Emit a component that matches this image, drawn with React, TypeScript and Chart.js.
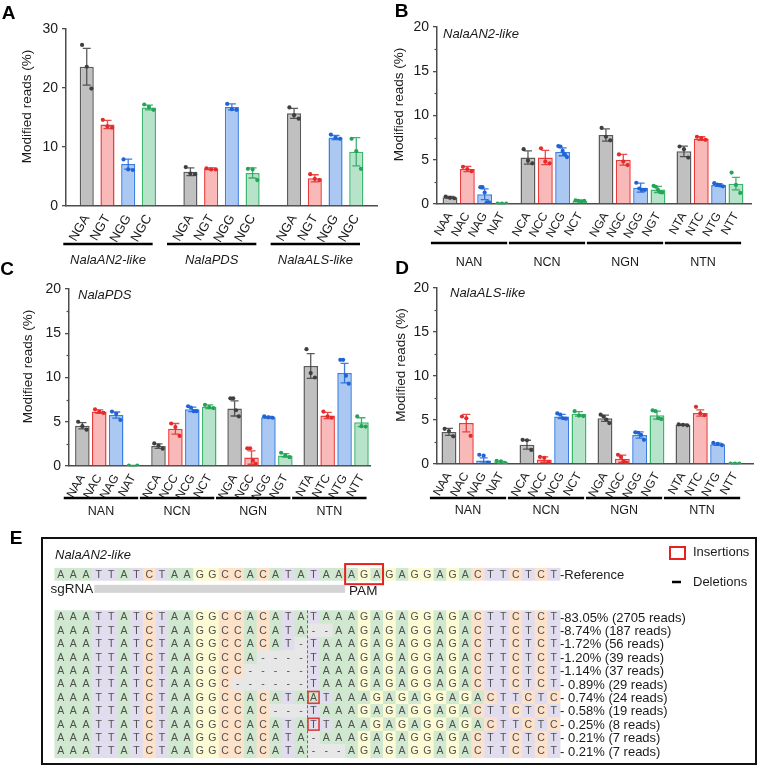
import React, { useEffect, useRef } from 'react';
import { Chart, registerables } from 'chart.js';

Chart.register(...registerables);

const FONT = '"Liberation Sans", Arial, Helvetica, sans-serif';
const INK = '#1a1a1a';
const AXIS = '#4d4d4d';

// Colours for the four motifs of each group (gray, red, blue, green)
const PALETTE = [
  { fill: '#c0c0c0', line: '#5a5a5a', dot: '#3f3f3f' },
  { fill: '#f9b9b9', line: '#ee3a3a', dot: '#e32b2b' },
  { fill: '#aac8f1', line: '#3b7fe2', dot: '#1f63d6' },
  { fill: '#b6e3c9', line: '#3bb66d', dot: '#24a458' },
];

// ---------------- Panel A: NGN PAMs at three target genes ----------------
const aMotifs = ['NGA', 'NGT', 'NGG', 'NGC'];
const aGenes = ['NalaAN2-like', 'NalaPDS', 'NalaALS-like'];
const aMeans = [23.6, 13.8, 7.1, 16.7, 5.8, 6.3, 16.8, 5.6, 15.7, 4.7, 11.6, 9.2];
const aErrors = [3.1, 0.7, 0.85, 0.4, 0.65, 0.15, 0.5, 0.85, 0.85, 0.6, 0.35, 2.4];
const aReplicates = [
  [27.3, 23.6, 19.9], [14.6, 13.5, 13.3], [7.9, 6.2, 6.1], [17.2, 16.8, 16.3],
  [6.6, 5.5, 5.4], [6.4, 6.2, 6.2], [17.3, 16.4, 16.3], [6.3, 6.2, 4.4],
  [16.7, 15.4, 14.8], [5.4, 4.6, 4.4], [12.1, 11.6, 11.4], [11.4, 9.3, 6.3],
];

// ---------------- Panels B–D: NNN PAM scan ----------------
const nnnMotifs = [
  'NAA', 'NAC', 'NAG', 'NAT', 'NCA', 'NCC', 'NCG', 'NCT',
  'NGA', 'NGC', 'NGG', 'NGT', 'NTA', 'NTC', 'NTG', 'NTT',
];
const nnnGroups = ['NAN', 'NCN', 'NGN', 'NTN'];

// B: NalaAN2-like
const bMeans = [0.75, 3.95, 1.1, 0.05, 5.25, 5.25, 5.9, 0.35, 7.8, 5.0, 1.85, 1.65, 5.95, 7.4, 2.15, 2.3];
const bErrors = [0.1, 0.3, 0.6, 0.02, 0.75, 0.8, 0.45, 0.05, 0.7, 0.6, 0.5, 0.35, 0.6, 0.2, 0.15, 0.7];
const bReplicates = [
  [0.85, 0.7, 0.65], [4.2, 3.95, 3.7], [1.9, 1.9, 1.3, 0.2, 0.2], [0.05, 0.05, 0.05],
  [6.2, 4.9, 4.6], [6.3, 4.8, 4.6], [6.55, 6.5, 6.0, 5.6, 5.3], [0.4, 0.35, 0.3, 0.35],
  [8.6, 7.6, 7.2], [5.6, 4.8, 4.4], [2.4, 1.75, 1.6, 1.6], [2.05, 1.95, 1.6, 1.35, 1.3],
  [6.5, 6.2, 5.25], [7.6, 7.45, 7.25], [2.35, 2.2, 2.1, 2.0], [3.55, 2.15, 1.25],
];

// C: NalaPDS
const cMeans = [4.55, 6.15, 5.75, 0.05, 2.25, 4.2, 6.4, 6.7, 6.5, 0.95, 5.5, 1.2, 11.3, 5.7, 10.5, 4.95];
const cErrors = [0.35, 0.2, 0.35, 0.02, 0.25, 0.6, 0.25, 0.2, 0.85, 0.75, 0.1, 0.2, 1.4, 0.35, 1.1, 0.5];
const cReplicates = [
  [5.0, 4.5, 4.1], [6.4, 6.15, 6.0], [6.15, 5.9, 5.2], [0.05, 0.05],
  [2.55, 2.3, 1.95], [4.8, 4.4, 3.4], [6.75, 6.6, 6.2, 6.2], [6.9, 6.65, 6.55],
  [7.65, 7.65, 6.3, 5.6], [2.0, 2.0, 0.6, 0.25], [5.6, 5.5, 5.45], [1.5, 1.2, 1.0],
  [13.2, 10.5, 10.0], [6.15, 5.6, 5.45], [12.0, 12.0, 10.2, 9.3], [5.6, 4.5, 4.45],
];

// D: NalaALS-like
const dMeans = [3.65, 4.65, 0.4, 0.2, 2.2, 0.5, 5.4, 5.7, 5.2, 0.6, 3.3, 5.55, 4.45, 5.8, 2.25, 0.05];
const dErrors = [0.4, 1.0, 0.3, 0.1, 0.5, 0.3, 0.25, 0.25, 0.35, 0.4, 0.35, 0.45, 0.07, 0.35, 0.12, 0.02];
const dReplicates = [
  [4.0, 3.75, 3.15], [5.4, 5.2, 3.2], [1.05, 0.95, 0.15], [0.35, 0.3, 0.1],
  [2.75, 2.7, 1.6], [0.8, 0.7, 0.2], [5.75, 5.6, 5.2, 5.15], [6.0, 5.5, 5.45],
  [5.6, 5.4, 5.05, 4.65], [1.05, 0.8, 0.3, 0.15], [3.6, 3.55, 3.3, 2.75], [6.1, 6.0, 5.2, 5.1],
  [4.5, 4.45, 4.4], [6.5, 5.75, 5.55], [2.4, 2.3, 2.15], [0.05, 0.05, 0.05],
];

// ---------------- Panel E: amplicon reads at NalaAN2-like ----------------
const referenceSeq = 'AAATTATCTAAGGCCACATATAAAGAGAGGAGACTTCTCT';
const readSeqs = [
  'AAATTATCTAAGGCCACATATAAAGAGAGGAGACTTCTCT',
  'AAATTATCTAAGGCCACATA--AAGAGAGGAGACTTCTCT',
  'AAATTATCTAAGGCCACAT-TAAAGAGAGGAGACTTCTCT',
  'AAATTATCTAAGGCCA----TAAAGAGAGGAGACTTCTCT',
  'AAATTATCTAAGGCC-----TAAAGAGAGGAGACTTCTCT',
  'AAATTATCTAAGGC------TAAAGAGAGGAGACTTCTCT',
  'AAATTATCTAAGGCCACATAATAAAGAGAGGAGACTTCTC',
  'AAATTATCTAAGGCCAC---TAAAGAGAGGAGACTTCTCT',
  'AAATTATCTAAGGCCACATATTAAAGAGAGGAGACTTCTC',
  'AAATTATCTAAGGCCACATA-AAAGAGAGGAGACTTCTCT',
  'AAATTATCTAAGGCCACATA---AGAGAGGAGACTTCTCT',
];
const readPercents = [83.05, 8.74, 1.72, 1.2, 1.14, 0.89, 0.74, 0.58, 0.25, 0.21, 0.21];
const readCounts = [2705, 187, 56, 39, 37, 29, 24, 19, 8, 7, 7];
const readInsertions = [-1, -1, -1, -1, -1, -1, 20, -1, 20, -1, -1]; // column of inserted base
const cutColumn = 20;
const sgRNASpan = [3, 23];
const pamSpan = [23, 26];

const BASE_FILL: Record<string, string> = {
  A: '#cfe8cf',
  T: '#e2ddee',
  C: '#fde2c9',
  G: '#fdfbd3',
  '-': '#e7e7e7',
};

type PanelSpec = {
  left: number; top: number; width: number; height: number;
  area: { left: number; top: number; right: number; bottom: number };
  labels: string[]; groups: string[]; groupItalic: boolean;
  means: number[]; errors: number[]; replicates: number[][];
  groupStep: number; xMin: number; xMax: number;
  yMax: number; yMajor: number; yMinor: number;
  barPct: number; jitter: number;
  tickFont: number; groupFont: number;
  underlineY: number; groupLabelY: number; underlinePad: [number, number];
  letter: string; letterXY: [number, number];
  titleX: number; inner?: string; innerXY?: [number, number];
};

function BarPanel({ spec }: { spec: PanelSpec }) {
  const ref = useRef<HTMLCanvasElement>(null);
  useEffect(() => {
    const p = spec;
    const positions = p.labels.map((_, i) => Math.floor(i / 4) * p.groupStep + (i % 4));
    const colour = (i: number) => PALETTE[i % 4];
    const pts: { x: number; y: number; c: string }[] = [];
    p.replicates.forEach((reps, i) => {
      const n = reps.length;
      reps.forEach((v, k) => {
        const off = n > 1 ? (k / (n - 1) - 0.5) * p.jitter : 0;
        pts.push({ x: positions[i] + off, y: v, c: colour(i).dot });
      });
    });

    const decor = {
      id: 'decor',
      afterDatasetDraw(chart: any, args: any) {
        if (args.index !== 0) return;
        const { ctx, scales: { x, y } } = chart;
        ctx.save();
        ctx.lineWidth = 1.3;
        p.means.forEach((m, i) => {
          const px = x.getPixelForValue(positions[i]);
          const hi = y.getPixelForValue(m + p.errors[i]);
          const lo = y.getPixelForValue(Math.max(0, m - p.errors[i]));
          ctx.strokeStyle = colour(i).dot;
          ctx.globalAlpha = 0.85;
          ctx.beginPath();
          ctx.moveTo(px, hi); ctx.lineTo(px, lo);
          ctx.moveTo(px - 4, hi); ctx.lineTo(px + 4, hi);
          ctx.moveTo(px - 4, lo); ctx.lineTo(px + 4, lo);
          ctx.stroke();
        });
        ctx.restore();
      },
      afterDraw(chart: any) {
        const { ctx, scales: { x, y }, chartArea } = chart;
        ctx.save();
        // minor ticks on the y axis
        if (p.yMinor > 0) {
          ctx.strokeStyle = AXIS;
          ctx.lineWidth = 1.2;
          for (let v = p.yMinor; v < p.yMax; v += p.yMinor * 2) {
            const py = Math.round(y.getPixelForValue(v)) + 0.5;
            ctx.beginPath();
            ctx.moveTo(chartArea.left - 2.5, py);
            ctx.lineTo(chartArea.left, py);
            ctx.stroke();
          }
        }
        // group underlines and names
        ctx.fillStyle = INK;
        ctx.strokeStyle = '#000';
        ctx.lineWidth = 2.6;
        ctx.textAlign = 'center';
        ctx.textBaseline = 'middle';
        ctx.font = `${p.groupItalic ? 'italic ' : ''}${p.groupFont}px ${FONT}`;
        p.groups.forEach((g, gi) => {
          const first = gi * p.groupStep;
          const last = first + 3;
          const x0 = x.getPixelForValue(first - p.underlinePad[0]);
          const x1 = x.getPixelForValue(last + p.underlinePad[1]);
          ctx.beginPath();
          ctx.moveTo(x0, p.underlineY);
          ctx.lineTo(x1, p.underlineY);
          ctx.stroke();
          ctx.fillText(g, (x0 + x1) / 2, p.groupLabelY);
        });
        // axis title
        ctx.save();
        ctx.translate(p.titleX, (chartArea.top + chartArea.bottom) / 2 - 11);
        ctx.rotate(-Math.PI / 2);
        ctx.font = `13.5px ${FONT}`;
        ctx.fillText('Modified reads (%)', 0, 0);
        ctx.restore();
        // panel letter
        ctx.font = `bold 19px ${FONT}`;
        ctx.fillStyle = '#000';
        ctx.fillText(p.letter, p.letterXY[0], p.letterXY[1]);
        // gene name inside the plot
        if (p.inner && p.innerXY) {
          ctx.font = `italic 13px ${FONT}`;
          ctx.textAlign = 'left';
          ctx.fillStyle = INK;
          ctx.fillText(p.inner, p.innerXY[0], p.innerXY[1]);
        }
        ctx.restore();
      },
    };

    const chart = new Chart(ref.current as HTMLCanvasElement, {
      type: 'bar',
      data: {
        datasets: [
          {
            type: 'bar',
            data: p.means.map((m, i) => ({ x: positions[i], y: m })),
            backgroundColor: p.means.map((_, i) => colour(i).fill),
            borderColor: p.means.map((_, i) => colour(i).line),
            borderWidth: 1.5,
            barPercentage: p.barPct,
            categoryPercentage: 1,
            order: 1,
          } as any,
          {
            type: 'scatter',
            data: pts.map((q) => ({ x: q.x, y: q.y })),
            pointBackgroundColor: pts.map((q) => q.c),
            pointBorderWidth: 0,
            pointRadius: 2.1,
            order: 0,
          } as any,
        ],
      },
      options: {
        responsive: false,
        animation: false,
        devicePixelRatio: 1,
        events: [],
        layout: {
          autoPadding: false,
          padding: { left: 0, top: p.area.top, right: p.width - p.area.right, bottom: 0 },
        },
        plugins: { legend: { display: false }, tooltip: { enabled: false } },
        scales: {
          x: {
            type: 'linear',
            min: p.xMin,
            max: p.xMax,
            offset: false,
            afterBuildTicks: (s: any) => {
              s.ticks = positions.map((v) => ({ value: v }));
            },
            afterFit: (s: any) => {
              s.height = p.height - p.area.bottom;
            },
            grid: { display: false, drawTicks: false },
            border: { display: true, color: AXIS, width: 1.5 },
            ticks: {
              autoSkip: false,
              minRotation: 60,
              maxRotation: 60,
              padding: 6,
              color: INK,
              font: { family: FONT, size: p.tickFont },
              callback: (_v: any, i: number) => p.labels[i],
            },
          },
          y: {
            type: 'linear',
            min: 0,
            max: p.yMax,
            afterFit: (s: any) => {
              s.width = p.area.left;
            },
            grid: { drawOnChartArea: false, drawTicks: true, tickLength: 4, color: AXIS, lineWidth: 1.3 },
            border: { display: true, color: AXIS, width: 1.5 },
            ticks: {
              stepSize: p.yMajor,
              padding: 4,
              color: INK,
              font: { family: FONT, size: 14 },
            },
          },
        } as any,
      },
      plugins: [decor],
    });
    return () => chart.destroy();
  }, [spec]);

  return (
    <canvas
      ref={ref}
      width={spec.width}
      height={spec.height}
      style={{ position: 'absolute', left: spec.left, top: spec.top, width: spec.width, height: spec.height }}
    />
  );
}

function AlignmentPanel() {
  const ref = useRef<HTMLCanvasElement>(null);
  useEffect(() => {
    const W = 762;
    const H = 248;
    const refRow = -3.2;
    const drawAlign = {
      id: 'alignment',
      afterDraw(chart: any) {
        const { ctx, scales: { x, y } } = chart;
        ctx.save();
        // frame and panel letter
        ctx.strokeStyle = '#111';
        ctx.lineWidth = 2;
        ctx.strokeRect(42, 18, 714, 226);
        ctx.fillStyle = '#000';
        ctx.font = `bold 19px ${FONT}`;
        ctx.textAlign = 'center';
        ctx.textBaseline = 'middle';
        ctx.fillText('E', 16, 19);

        const cellRow = (seq: string, row: number, h: number) => {
          const top = y.getPixelForValue(row - h / 2);
          const bot = y.getPixelForValue(row + h / 2);
          for (let k = 0; k < seq.length; k++) {
            const x0 = x.getPixelForValue(k);
            const x1 = x.getPixelForValue(k + 1);
            ctx.fillStyle = BASE_FILL[seq[k]] || '#fff';
            ctx.fillRect(x0, top, x1 - x0 + 0.4, bot - top + 0.4);
          }
          ctx.fillStyle = '#505050';
          ctx.font = `10.5px ${FONT}`;
          ctx.textAlign = 'center';
          ctx.textBaseline = 'middle';
          for (let k = 0; k < seq.length; k++) {
            const xc = x.getPixelForValue(k + 0.5);
            ctx.fillText(seq[k], xc, (top + bot) / 2 + 0.5);
          }
        };

        // gene name
        ctx.fillStyle = INK;
        ctx.font = `italic 13px ${FONT}`;
        ctx.textAlign = 'left';
        ctx.fillText('NalaAN2-like', 55, 35);

        // reference row
        cellRow(referenceSeq, refRow, 0.93);
        const rTop = y.getPixelForValue(refRow - 0.75);
        const rBot = y.getPixelForValue(refRow + 0.75);
        ctx.strokeStyle = '#e8211f';
        ctx.lineWidth = 2;
        ctx.strokeRect(x.getPixelForValue(pamSpan[0]), rTop, x.getPixelForValue(pamSpan[1]) - x.getPixelForValue(pamSpan[0]), rBot - rTop);
        ctx.fillStyle = INK;
        ctx.font = `13px ${FONT}`;
        ctx.textAlign = 'left';
        ctx.fillText('-Reference', x.getPixelForValue(referenceSeq.length), y.getPixelForValue(refRow) + 1);

        // sgRNA bar and PAM label
        const sgY = y.getPixelForValue(-2.1);
        ctx.fillStyle = '#d4d4d4';
        ctx.fillRect(x.getPixelForValue(sgRNASpan[0]) + 2, sgY - 4, x.getPixelForValue(sgRNASpan[1]) - x.getPixelForValue(sgRNASpan[0]) - 2, 8);
        ctx.fillStyle = INK;
        ctx.font = `13.5px ${FONT}`;
        ctx.textAlign = 'right';
        ctx.fillText('sgRNA', x.getPixelForValue(sgRNASpan[0]) + 1, sgY);
        ctx.textAlign = 'left';
        ctx.fillText('PAM', x.getPixelForValue(pamSpan[0]) + 4, sgY + 2);

        // read rows
        readSeqs.forEach((seq, r) => {
          cellRow(seq, r, 1.0);
        });
        readSeqs.forEach((seq, r) => {
          if (readInsertions[r] >= 0) {
            const c = readInsertions[r];
            ctx.strokeStyle = '#d9403a';
            ctx.lineWidth = 1.6;
            const x0 = x.getPixelForValue(c);
            const x1 = x.getPixelForValue(c + 1);
            const t = y.getPixelForValue(r - 0.5);
            const b = y.getPixelForValue(r + 0.5);
            ctx.strokeRect(x0 + 0.8, t + 0.8, x1 - x0 - 1.6, b - t - 1.6);
          }
          const pct = readPercents[r];
          ctx.fillStyle = INK;
          ctx.font = `13px ${FONT}`;
          ctx.textAlign = 'left';
          ctx.textBaseline = 'middle';
          const lbl = `${pct < 1 ? '- ' : '-'}${pct.toFixed(2)}% (${readCounts[r]} reads)`;
          ctx.fillText(lbl, x.getPixelForValue(seq.length), y.getPixelForValue(r) + 1);
        });

        // cut site
        ctx.strokeStyle = '#3a6fd8';
        ctx.lineWidth = 1;
        ctx.setLineDash([3, 2]);
        const cx = Math.round(x.getPixelForValue(cutColumn)) + 0.5;
        ctx.beginPath();
        ctx.moveTo(cx, y.getPixelForValue(-0.5));
        ctx.lineTo(cx, y.getPixelForValue(readSeqs.length - 0.5));
        ctx.stroke();
        ctx.setLineDash([]);

        // legend
        ctx.strokeStyle = '#e8211f';
        ctx.lineWidth = 2;
        ctx.strokeRect(670, 27, 15, 12);
        ctx.fillStyle = INK;
        ctx.font = `13px ${FONT}`;
        ctx.textAlign = 'left';
        ctx.fillText('Insertions', 693, 32);
        ctx.strokeStyle = '#000';
        ctx.lineWidth = 2.5;
        ctx.beginPath();
        ctx.moveTo(672, 62);
        ctx.lineTo(681, 62);
        ctx.stroke();
        ctx.fillText('Deletions', 693, 62);
        ctx.restore();
      },
    };
    const chart = new Chart(ref.current as HTMLCanvasElement, {
      type: 'scatter',
      data: { datasets: [] },
      options: {
        responsive: false,
        animation: false,
        devicePixelRatio: 1,
        events: [],
        layout: { autoPadding: false, padding: { left: 54.4, right: W - 560, top: 43.4, bottom: H - 244.4 } },
        plugins: { legend: { display: false }, tooltip: { enabled: false } },
        scales: {
          x: { type: 'linear', min: 0, max: referenceSeq.length, display: false },
          y: { type: 'linear', min: -4, max: 11, reverse: true, display: false },
        },
      } as any,
      plugins: [drawAlign],
    });
    return () => chart.destroy();
  }, []);
  return (
    <canvas
      ref={ref}
      width={762}
      height={248}
      style={{ position: 'absolute', left: 0, top: 520, width: 762, height: 248 }}
    />
  );
}

const baseNNN = {
  labels: nnnMotifs, groups: nnnGroups, groupItalic: false,
  groupStep: 4.5, yMax: 20, yMajor: 5, yMinor: 2.5,
  barPct: 0.86, jitter: 0.5, tickFont: 12, groupFont: 12.5,
  underlinePad: [1.1, 0.3] as [number, number],
};

const specA: PanelSpec = {
  left: 0, top: 0, width: 380, height: 272,
  area: { left: 66, top: 29, right: 377, bottom: 206 },
  labels: aGenes.flatMap(() => aMotifs), groups: aGenes, groupItalic: true,
  means: aMeans, errors: aErrors, replicates: aReplicates,
  groupStep: 5, xMin: -1, xMax: 14,
  yMax: 30, yMajor: 10, yMinor: 0,
  barPct: 0.68, jitter: 0.45, tickFont: 13, groupFont: 13,
  underlineY: 244, groupLabelY: 260, underlinePad: [1.13, 0.18],
  letter: 'A', letterXY: [8.5, 14], titleX: 27,
};

const specB: PanelSpec = {
  ...baseNNN,
  left: 380, top: 0, width: 382, height: 272,
  area: { left: 57, top: 27, right: 371, bottom: 204 },
  means: bMeans, errors: bErrors, replicates: bReplicates,
  xMin: -0.75, xMax: 17.37,
  underlineY: 243, groupLabelY: 263,
  letter: 'B', letterXY: [21.5, 12], titleX: 19,
  inner: 'NalaAN2-like', innerXY: [63, 34],
};

const specC: PanelSpec = {
  ...baseNNN,
  left: 0, top: 258, width: 380, height: 262,
  area: { left: 69, top: 31, right: 378, bottom: 208 },
  means: cMeans, errors: cErrors, replicates: cReplicates,
  xMin: -0.79, xMax: 17.04,
  underlineY: 240, groupLabelY: 254,
  letter: 'C', letterXY: [7, 12], titleX: 28,
  inner: 'NalaPDS', innerXY: [78, 37],
};

const specD: PanelSpec = {
  ...baseNNN,
  left: 380, top: 258, width: 382, height: 262,
  area: { left: 57, top: 30, right: 373, bottom: 206 },
  means: dMeans, errors: dErrors, replicates: dReplicates,
  xMin: -0.69, xMax: 17.54,
  underlineY: 240, groupLabelY: 253,
  letter: 'D', letterXY: [22, 11], titleX: 21,
  inner: 'NalaALS-like', innerXY: [70, 35],
};

export default function App() {
  return (
    <div style={{ position: 'absolute', left: 0, top: 0, width: 762, height: 768, background: '#fff', overflow: 'hidden' }}>
      <BarPanel spec={specA} />
      <BarPanel spec={specB} />
      <BarPanel spec={specC} />
      <BarPanel spec={specD} />
      <AlignmentPanel />
    </div>
  );
}
